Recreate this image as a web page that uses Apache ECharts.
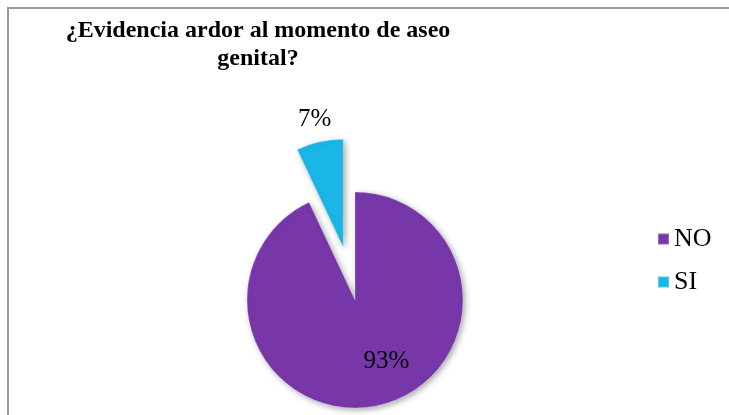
<!DOCTYPE html>
<html>
<head>
<meta charset="utf-8">
<script src="https://cdn.jsdelivr.net/npm/echarts@6/dist/echarts.min.js"></script>
<style>
  html, body { margin: 0; padding: 0; background: #fff; }
  #chart { width: 729px; height: 415px; }
</style>
</head>
<body>
<div id="chart"></div>
<script>
// datos
var categorias = ['NO', 'SI'];
var valores = [93, 7];
var colores = ['#7737a8', '#1ab6e6'];

// desplazamiento de las etiquetas (dx, dy)
var desplaza = [[19, 6], [-16, -72]];

var serif = '"Liberation Serif", "Times New Roman", serif';

var myChart = echarts.init(document.getElementById('chart'));

var datos = categorias.map(function (c, i) {
  return {
    name: c,
    value: valores[i],
    selected: c === 'SI',
    itemStyle: { color: colores[i] }
  };
});

var option = {
  animation: false,
  title: {              // titulo
    text: '¿Evidencia ardor al momento de aseo\ngenital?',
    left: 258,
    top: 17,
    padding: 0,
    textAlign: 'center',
    textStyle: {
      fontFamily: serif,
      fontSize: 24,
      fontWeight: 'bold',
      color: '#000',
      lineHeight: 28
    }
  },
  legend: {
    orient: 'vertical',
    left: 657,
    top: 224,
    icon: 'rect',
    itemWidth: 11,
    itemHeight: 11,
    itemGap: 13,
    padding: 0,
    data: categorias,
    textStyle: {
      fontFamily: serif,
      fontSize: 26,
      lineHeight: 30,
      color: '#000'
    }
  },
  graphic: [{
    type: 'rect',
    shape: { x: 8, y: 8, width: 800, height: 500 },
    style: { fill: null, stroke: '#9a9a9a', lineWidth: 2 },
    silent: true
  }],
  series: [{
    type: 'pie',
    center: [355, 300],
    radius: 108,
    startAngle: 90,
    clockwise: true,
    selectedMode: 'single',
    selectedOffset: 54,
    emphasis: { disabled: true },
    label: {
      show: true,
      position: 'inside',
      formatter: '{d}%',
      fontFamily: serif,
      fontSize: 25,
      color: '#000'
    },
    labelLine: { show: false },
    labelLayout: function (p) {
      return { dx: desplaza[p.dataIndex][0], dy: desplaza[p.dataIndex][1] };
    },
    itemStyle: {
      borderColor: 'rgba(255,255,255,0.25)',
      borderWidth: 1,
      shadowBlur: 6,
      shadowColor: 'rgba(0,0,0,0.35)',
      shadowOffsetX: 2,
      shadowOffsetY: 2
    },
    data: datos
  }]
};

myChart.setOption(option);
</script>
</body>
</html>
